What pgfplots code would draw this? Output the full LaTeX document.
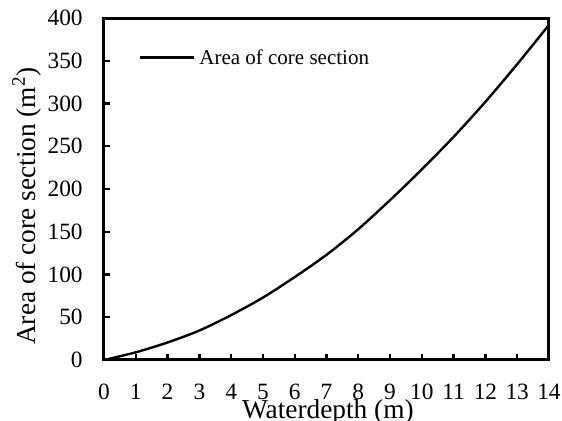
\documentclass[border=0pt]{standalone}
\usepackage{fontspec}
\setmainfont{Liberation Serif}
\usepackage{pgfplots}
\pgfplotsset{compat=1.18}
\begin{document}
\begin{tikzpicture}
\begin{axis}[
  name=ax,
  at={(0,0)}, anchor=south west,
  scale only axis,
  width=333.75pt, height=256.5pt,
  xmin=0, xmax=14, ymin=0, ymax=400,
  xtick={0,1,...,14}, ytick={0,50,...,400},
  xtick pos=bottom, ytick pos=left,
  tick align=inside,
  major tick length=4.5pt,
  every tick/.style={black, line width=1.8pt},
  axis line style={line width=2.25pt},
  /pgf/number format/assume math mode=true,
  ticklabel style={font=\fontsize{17.5}{20}\selectfont},
  yticklabel style={xshift=-12.5pt},
  xticklabel style={yshift=-14.5pt},
  xlabel={Waterdepth (m)},
  ylabel={Area of core section (m\textsuperscript{2})},
  label style={font=\fontsize{20.5}{24}\selectfont},
  xlabel style={at={(axis description cs:0.503,-0.1725)}, anchor=base},
  ylabel style={at={(axis description cs:-0.155,0.45)}, anchor=base},
  legend style={at={(axis description cs:0.078,0.884)}, anchor=west, draw=none, fill=none,
    inner sep=0pt, font=\fontsize{15.75}{18}\selectfont,
    nodes={inner sep=0pt}, column sep=3pt},
  legend image code/.code={\draw[#1] (0pt,0pt) -- (40.5pt,0pt);},
]
\addplot[black, line width=1.8pt, smooth] coordinates {
(0,0) (1,9) (2,20.5) (3,34.5) (4,52.5) (5,73) (6,97) (7,123) (8,153) (9,187) (10,223) (11,261) (12,302) (13,346) (14,392)
};
\addlegendentry{Area of core section}
\end{axis}
\pgfresetboundingbox
\path ([shift={(-78pt,-45.75pt)}]ax.south west) rectangle ([shift={(343.5pt,270pt)}]ax.south west);
\end{tikzpicture}
\end{document}
